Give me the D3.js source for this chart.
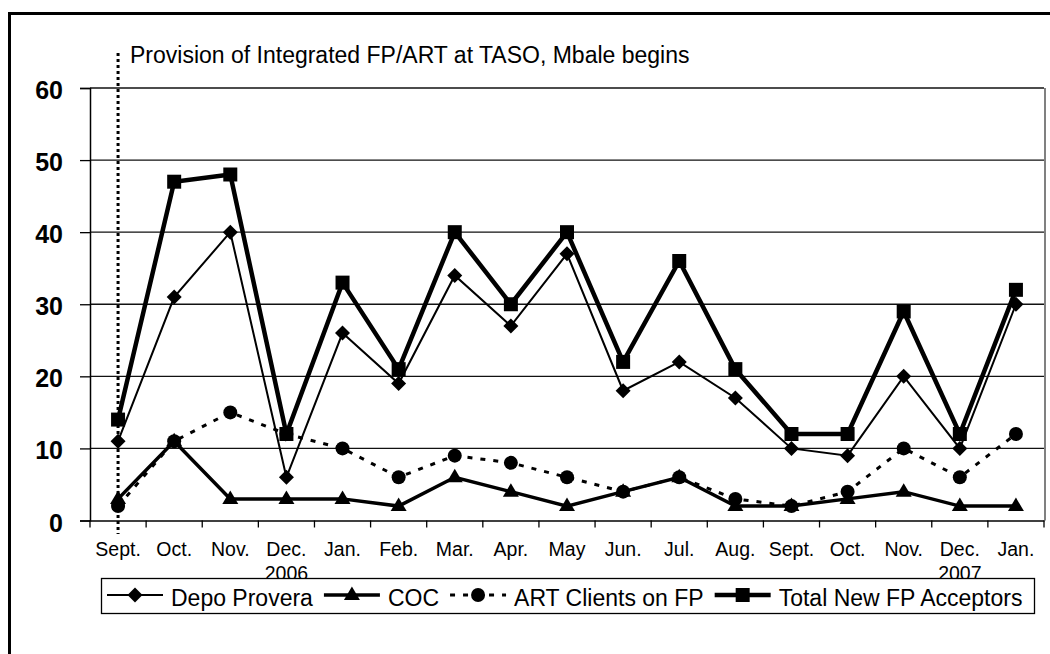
<!DOCTYPE html>
<html>
<head>
<meta charset="utf-8">
<script src="https://cdn.jsdelivr.net/npm/d3@7"></script>
<style>
body { margin: 0; background: #fff; }
svg { display: block; font-family: "Liberation Sans", Arial, sans-serif; }
</style>
</head>
<body>
<svg id="chart" width="1050" height="654"></svg>
<script>
// categories (Sept. 2006 .. Jan. 2007 of the following year)
var months = ["Sept.", "Oct.", "Nov.", "Dec.", "Jan.", "Feb.", "Mar.", "Apr.", "May",
              "Jun.", "Jul.", "Aug.", "Sept.", "Oct.", "Nov.", "Dec.", "Jan."];
var years = ["", "", "", "2006", "", "", "", "", "", "", "", "", "", "", "", "2007", ""];
var yTicks = [0, 10, 20, 30, 40, 50, 60];

// series values
var depoProvera = [11, 31, 40, 6, 26, 19, 34, 27, 37, 18, 22, 17, 10, 9, 20, 10, 30];
var coc         = [3, 11, 3, 3, 3, 2, 6, 4, 2, 4, 6, 2, 2, 3, 4, 2, 2];
var artClients  = [2, 11, 15, 12, 10, 6, 9, 8, 6, 4, 6, 3, 2, 4, 10, 6, 12];
var totalNew    = [14, 47, 48, 12, 33, 21, 40, 30, 40, 22, 36, 21, 12, 12, 29, 12, 32];

var annotation = "Provision of Integrated FP/ART at TASO, Mbale begins";

var svg = d3.select("#chart");

// plot area edges ("top" is taken by window.top, so use plot_*)
var plot_left = 90, plot_right = 1044, plot_top = 88, plot_bottom = 520.5;

var x = d3.scaleBand()
  .domain(d3.range(months.length))
  .range([plot_left, plot_right]);

var y = d3.scaleLinear()
  .domain([0, 60])
  .range([plot_bottom, plot_top]);

// outer frame (right and bottom edges fall outside the picture)
svg.append("rect")
  .attr("x", 9.5).attr("y", 13.5)
  .attr("width", 1100).attr("height", 700)
  .attr("fill", "none").attr("stroke", "#000").attr("stroke-width", 3);

// plot area right edge
svg.append("line")
  .attr("x1", plot_right + 1).attr("x2", plot_right + 1)
  .attr("y1", plot_top).attr("y2", plot_bottom)
  .attr("stroke", "#808080").attr("stroke-width", 2);

// gridlines
svg.append("g")
  .selectAll("line")
  .data(yTicks.filter(function(d) { return d > 0; }))
  .enter().append("line")
  .attr("x1", plot_left).attr("x2", plot_right)
  .attr("y1", function(d) { return y(d); })
  .attr("y2", function(d) { return y(d); })
  .attr("stroke", "#111").attr("stroke-width", 1.3);

// y axis
var yAxis = svg.append("g")
  .attr("transform", "translate(" + plot_left + ",0)")
  .call(d3.axisLeft(y).tickValues(yTicks).tickSize(10).tickPadding(17));
yAxis.select(".domain").attr("stroke", "#000").attr("stroke-width", 1.5);
yAxis.selectAll(".tick line").attr("stroke", "#000").attr("stroke-width", 1.3);
yAxis.selectAll("text")
  .attr("dy", "0.42em")
  .style("font-family", "'Liberation Sans', Arial, sans-serif")
  .style("font-size", "25px")
  .style("font-weight", "bold")
  .attr("fill", "#000");

// x axis
var xAxis = svg.append("g")
  .attr("transform", "translate(0," + plot_bottom + ")")
  .call(d3.axisBottom(x).tickSize(0).tickFormat(function(i) { return months[i]; }));
xAxis.select(".domain").attr("stroke", "#000").attr("stroke-width", 1.5);
xAxis.selectAll("text")
  .attr("y", 35).attr("dy", 0)
  .style("font-family", "'Liberation Sans', Arial, sans-serif")
  .style("font-size", "19.5px")
  .attr("fill", "#000");
xAxis.selectAll(".tick")
  .append("text")
  .attr("y", 59)
  .attr("text-anchor", "middle")
  .style("font-family", "'Liberation Sans', Arial, sans-serif")
  .style("font-size", "19.5px")
  .attr("fill", "#000")
  .text(function(i) { return years[i]; });

// tick marks between categories
xAxis.selectAll(".sep")
  .data(d3.range(months.length + 1))
  .enter().append("line")
  .attr("class", "sep")
  .attr("x1", function(i) { return plot_left + i * x.bandwidth(); })
  .attr("x2", function(i) { return plot_left + i * x.bandwidth(); })
  .attr("y1", 0).attr("y2", 7)
  .attr("stroke", "#000").attr("stroke-width", 1.3);

// start marker: dotted vertical line + note
var start_x = x(0) + x.bandwidth() / 2;
svg.append("line")
  .attr("x1", start_x).attr("x2", start_x)
  .attr("y1", 53).attr("y2", 534)
  .attr("stroke", "#000").attr("stroke-width", 3)
  .attr("stroke-dasharray", "3,3");
svg.append("text")
  .attr("x", 130).attr("y", 63)
  .style("font-size", "23px")
  .attr("fill", "#000")
  .text(annotation);

// marker shapes
function marker(kind)
{
  if (kind == "diamond") return "M0,-7.5L7.5,0L0,7.5L-7.5,0Z";
  if (kind == "triangle") return "M0,-8.5L8,5L-8,5Z";
  if (kind == "square") return "M-7,-7H7V7H-7Z";
  return "M7,0A7,7 0 1,1 -7,0A7,7 0 1,1 7,0Z";
}

var series = [
  {name: "Depo Provera", values: depoProvera, width: 2, dash: null, kind: "diamond"},
  {name: "COC", values: coc, width: 3.5, dash: null, kind: "triangle"},
  {name: "ART Clients on FP", values: artClients, width: 3, dash: "5,8", kind: "circle"},
  {name: "Total New FP Acceptors", values: totalNew, width: 4.5, dash: null, kind: "square"}
];

var line = d3.line()
  .x(function(d, i) { return x(i) + x.bandwidth() / 2; })
  .y(function(d) { return y(d); });

series.forEach(function(s)
{
  var g = svg.append("g");
  g.append("path")
    .attr("d", line(s.values))
    .attr("fill", "none")
    .attr("stroke", "#000")
    .attr("stroke-width", s.width)
    .attr("stroke-dasharray", s.dash);
  g.selectAll("path.pt")
    .data(s.values)
    .enter().append("path")
    .attr("class", "pt")
    .attr("transform", function(d, i) { return "translate(" + (x(i) + x.bandwidth() / 2) + "," + y(d) + ")"; })
    .attr("d", marker(s.kind))
    .attr("fill", "#000");
});

// legend
var legend = svg.append("g");
legend.append("rect")
  .attr("x", 101.5).attr("y", 578.5)
  .attr("width", 933).attr("height", 35)
  .attr("fill", "#fff").attr("stroke", "#000").attr("stroke-width", 1.3);

var lx = 107, ly = 595;
series.forEach(function(s)
{
  legend.append("line")
    .attr("x1", lx).attr("x2", lx + 56)
    .attr("y1", ly).attr("y2", ly)
    .attr("stroke", "#000")
    .attr("stroke-width", s.width)
    .attr("stroke-dasharray", s.dash);
  legend.append("path")
    .attr("transform", "translate(" + (lx + 28) + "," + ly + ")")
    .attr("d", marker(s.kind))
    .attr("fill", "#000");
  var t = legend.append("text")
    .attr("x", lx + 64).attr("y", ly + 11)
    .style("font-size", "23px")
    .attr("fill", "#000")
    .text(s.name);
  lx += 64 + t.node().getComputedTextLength() + 11;
});
</script>
</body>
</html>
